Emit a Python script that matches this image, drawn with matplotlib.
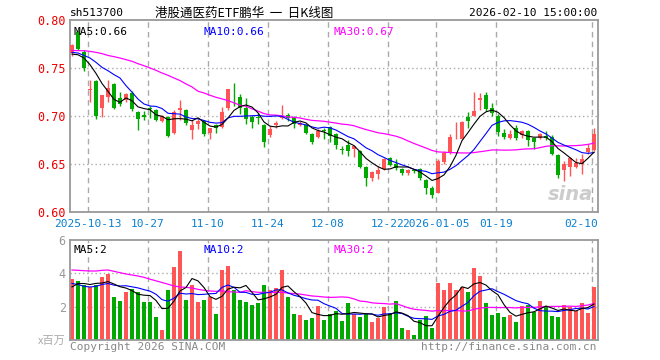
import pandas as pd
import matplotlib.pyplot as plt

# daily candles, 2025-09-30 .. 2026-02-10 (88 trading days)
opens = [0.766, 0.787, 0.767, 0.727, 0.736, 0.708, 0.720, 0.733, 0.719, 0.717,
         0.724, 0.704, 0.7015, 0.7085, 0.706, 0.6946, 0.699, 0.682, 0.706, 0.7065,
         0.685, 0.692, 0.6945, 0.6825, 0.691, 0.6888, 0.7085, 0.721, 0.720, 0.708,
         0.699, 0.6989, 0.691, 0.680, 0.691, 0.698, 0.7015, 0.699, 0.6905, 0.6905,
         0.681, 0.678, 0.685, 0.6885, 0.6815, 0.6655, 0.670, 0.6653, 0.664, 0.647,
         0.6358, 0.640, 0.6445, 0.6566, 0.6504, 0.6445, 0.641, 0.643, 0.6445, 0.633,
         0.6254, 0.620, 0.6524, 0.6618, 0.684, 0.6758, 0.6988, 0.6995, 0.7166, 0.7216,
         0.7085, 0.6998, 0.6825, 0.6774, 0.6877, 0.680, 0.6843, 0.6767, 0.6767, 0.679,
         0.678, 0.6593, 0.6434, 0.6469, 0.6469, 0.6496, 0.6628, 0.6642]
highs = [0.775, 0.790, 0.769, 0.737, 0.737, 0.7216, 0.738, 0.734, 0.725, 0.724,
         0.726, 0.705, 0.705, 0.710, 0.7075, 0.701, 0.700, 0.706, 0.717, 0.707,
         0.6955, 0.6965, 0.6955, 0.688, 0.692, 0.709, 0.7285, 0.7345, 0.723, 0.719,
         0.7015, 0.703, 0.6919, 0.690, 0.695, 0.711, 0.703, 0.700, 0.6945, 0.692,
         0.6825, 0.686, 0.6877, 0.6895, 0.6825, 0.6687, 0.6746, 0.6687, 0.665, 0.648,
         0.6427, 0.648, 0.6566, 0.6573, 0.6556, 0.6462, 0.6445, 0.6445, 0.6455, 0.634,
         0.6272, 0.655, 0.6635, 0.6808, 0.694, 0.6946, 0.704, 0.725, 0.724, 0.725,
         0.7137, 0.7016, 0.686, 0.685, 0.6905, 0.685, 0.685, 0.6773, 0.6825, 0.6843,
         0.680, 0.660, 0.653, 0.6573, 0.6566, 0.660, 0.6704, 0.6877]
lows = [0.762, 0.769, 0.7465, 0.715, 0.697, 0.699, 0.715, 0.707, 0.710, 0.715,
        0.705, 0.685, 0.696, 0.698, 0.6946, 0.694, 0.678, 0.681, 0.696, 0.691,
        0.6756, 0.686, 0.6795, 0.6765, 0.6825, 0.688, 0.706, 0.710, 0.702, 0.692,
        0.6877, 0.692, 0.6676, 0.6785, 0.6877, 0.6965, 0.6946, 0.688, 0.6895, 0.6815,
        0.6705, 0.6767, 0.6757, 0.673, 0.6653, 0.660, 0.6583, 0.6573, 0.6462, 0.6272,
        0.6324, 0.634, 0.6434, 0.648, 0.6434, 0.639, 0.639, 0.641, 0.633, 0.619,
        0.615, 0.6195, 0.6497, 0.6607, 0.6756, 0.6756, 0.6877, 0.6995, 0.7067, 0.7057,
        0.6998, 0.679, 0.6756, 0.6756, 0.6746, 0.6773, 0.6687, 0.666, 0.6756, 0.6746,
        0.6594, 0.6358, 0.6324, 0.6375, 0.6462, 0.6393, 0.660, 0.6635]
closes = [0.774, 0.770, 0.750, 0.728, 0.700, 0.7216, 0.729, 0.708, 0.7126, 0.723,
          0.707, 0.697, 0.699, 0.707, 0.696, 0.6995, 0.679, 0.704, 0.708, 0.693,
          0.691, 0.6946, 0.681, 0.688, 0.688, 0.704, 0.7285, 0.7205, 0.708, 0.6965,
          0.6933, 0.6982, 0.673, 0.686, 0.6925, 0.699, 0.6975, 0.692, 0.693, 0.6825,
          0.673, 0.684, 0.684, 0.679, 0.6697, 0.665, 0.6635, 0.6687, 0.647, 0.635,
          0.642, 0.6434, 0.6548, 0.649, 0.6462, 0.641, 0.6434, 0.6425, 0.6352, 0.6254,
          0.6178, 0.6531, 0.6618, 0.678, 0.6845, 0.694, 0.6953, 0.7057, 0.7188, 0.7078,
          0.7033, 0.6836, 0.6784, 0.6808, 0.6767, 0.6843, 0.6746, 0.6732, 0.6815, 0.6767,
          0.6607, 0.6386, 0.6503, 0.6566, 0.6514, 0.6548, 0.667, 0.6815]
volumes = [3.69, 3.53, 3.29, 3.18, 3.29, 3.80, 3.96, 2.57, 2.37, 2.88,
           3.04, 2.88, 2.27, 2.27, 1.41, 0.59, 2.98, 4.41, 5.33, 2.43,
           3.29, 2.27, 2.43, 2.61, 1.59, 4.20, 4.45, 2.98, 2.43, 2.31,
           2.12, 2.20, 3.29, 2.98, 3.12, 4.20, 2.61, 1.57, 1.51, 1.20,
           1.33, 2.06, 1.20, 1.57, 1.76, 1.14, 2.24, 1.55, 1.39, 1.55,
           1.08, 1.35, 2.00, 1.63, 2.37, 0.73, 0.59, 0.31, 1.20, 1.45,
           0.73, 3.40, 2.98, 3.43, 2.98, 3.18, 2.88, 4.35, 3.86, 2.20,
           1.51, 1.65, 1.41, 1.51, 1.08, 2.06, 2.12, 1.69, 2.37, 1.96,
           1.45, 1.39, 2.12, 2.00, 1.76, 2.20, 1.65, 3.18]

# moving-average values at the start of the window (read off the chart,
# they depend on days before the first candle)
ma5_head = [0.7645, 0.7638, 0.7604, 0.7535]
ma10_head = [0.7663, 0.7656, 0.7631, 0.7604, 0.7559, 0.7507, 0.7472, 0.7431, 0.7396]
ma30_head = [0.7683, 0.7681, 0.768, 0.7673, 0.7663, 0.765, 0.7631, 0.7618, 0.7604, 0.7587,
             0.757, 0.7545, 0.7524, 0.75, 0.7476, 0.7448, 0.7424, 0.7396, 0.7369, 0.7334,
             0.7303, 0.7258, 0.724, 0.7216, 0.7195, 0.7178, 0.7161, 0.7137, 0.7112]
vma5_head = [3.18, 3.39, 3.39, 3.33]
vma10_head = [3.39, 3.33, 3.22, 3.18, 3.22, 3.33, 3.39, 3.29, 3.24]
vma30_head = [4.20, 4.18, 4.16, 4.14, 4.14, 4.18, 4.20, 4.12, 4.04, 3.96,
              3.90, 3.84, 3.76, 3.65, 3.55, 3.45, 3.35, 3.24, 3.18, 3.16,
              3.12, 3.04, 2.98, 2.94, 2.92, 2.95, 2.90, 2.88, 2.86]

tick_idx = [3, 13, 23, 33, 43, 53, 61, 71, 87]
tick_labels = ['2025-10-13', '10-27', '11-10', '11-24', '12-08', '12-22',
               '2026-01-05', '01-19', '02-10']


def moving(vals, n, head):
    s = pd.Series(vals).rolling(n).mean()
    s.iloc[:len(head)] = head
    return s


RED = '#ff5555'
GREEN = '#00a800'
GRID = '#aaaaaa'
MONO = 'DejaVu Sans Mono'
CJK = ['Noto Sans CJK SC', 'DejaVu Sans']

df = pd.DataFrame({'open': opens, 'high': highs, 'low': lows, 'close': closes, 'vol': volumes})
df['color'] = [RED if c >= o else GREEN for o, c in zip(df.open, df.close)]
x = df.index.values

fig = plt.figure(figsize=(6.6, 3.6), dpi=100)
ax1 = fig.add_axes([70 / 660, 1 - 212 / 360, 528 / 660, 192 / 360])
ax2 = fig.add_axes([70 / 660, 1 - 340 / 360, 528 / 660, 100 / 360])

for ax in (ax1, ax2):
    ax.set_xlim(-0.33, 87.67)
    for i in tick_idx:
        ax.axvline(i - 0.33, color=GRID, ls=(0, (4, 3)), lw=1, zorder=0)
    for s in ax.spines.values():
        s.set_color('#999999')
        s.set_linewidth(1.3)
    ax.set_xticks([])
    ax.tick_params(length=0, pad=3)

# price panel
ax1.set_ylim(0.60, 0.80)
for v in [0.65, 0.70, 0.75]:
    ax1.axhline(v, color=GRID, ls=(0, (1, 2)), lw=1, zorder=0)
ax1.vlines(x, df.low, df.high, color=df.color, lw=1, zorder=2)
body = (df.close - df.open).abs().clip(lower=0.0008)
ax1.bar(x, body, bottom=df[['open', 'close']].min(axis=1), width=0.8,
        color=df.color, zorder=3)
ax1.plot(x, moving(closes, 30, ma30_head), color='#ff00ff', lw=0.9, zorder=4)
ax1.plot(x, moving(closes, 10, ma10_head), color='#0000ff', lw=0.8, zorder=4)
ax1.plot(x, moving(closes, 5, ma5_head), color='black', lw=0.8, zorder=4)
ax1.set_yticks([0.60, 0.65, 0.70, 0.75, 0.80])
ax1.set_yticklabels(['0.60', '0.65', '0.70', '0.75', '0.80'], color='#ee0000',
                    fontsize=8.5, family=MONO)
ax1.text(4 / 528, 0.965, 'MA5:0.66', transform=ax1.transAxes, color='black',
         fontsize=8, family=MONO, va='top')
ax1.text(134 / 528, 0.965, 'MA10:0.66', transform=ax1.transAxes, color='#0000ff',
         fontsize=8, family=MONO, va='top')
ax1.text(264 / 528, 0.965, 'MA30:0.67', transform=ax1.transAxes, color='#ff00ff',
         fontsize=8, family=MONO, va='top')
ax1.text(0.99, 0.09, 'sina', transform=ax1.transAxes, color='#cccccc',
         fontsize=14, fontweight='bold', style='italic', ha='right', va='center')

for i, lab in zip(tick_idx, tick_labels):
    last = i == tick_idx[-1]
    ax1.text(87.67 if last else i - 0.33, -0.037, lab,
             transform=ax1.get_xaxis_transform(), ha='right' if last else 'center',
             va='top', color='#0a7fd0', fontsize=8, family=MONO)

# volume panel
ax2.set_ylim(0, 6)
for v in [2, 4]:
    ax2.axhline(v, color=GRID, ls=(0, (1, 2)), lw=1, zorder=0)
ax2.bar(x, df.vol, width=0.8, color=df.color, zorder=2)
ax2.plot(x, moving(volumes, 30, vma30_head), color='#ff00ff', lw=0.9, zorder=3)
ax2.plot(x, moving(volumes, 10, vma10_head), color='#0000ff', lw=0.8, zorder=3)
ax2.plot(x, moving(volumes, 5, vma5_head), color='black', lw=0.8, zorder=3)
ax2.set_yticks([2, 4, 6])
ax2.set_yticklabels(['2', '4', '6'], color='#999999', fontsize=8.5, family=MONO)
ax2.text(4 / 528, 0.95, 'MA5:2', transform=ax2.transAxes, color='black',
         fontsize=8, family=MONO, va='top')
ax2.text(134 / 528, 0.95, 'MA10:2', transform=ax2.transAxes, color='#0000ff',
         fontsize=8, family=MONO, va='top')
ax2.text(264 / 528, 0.95, 'MA30:2', transform=ax2.transAxes, color='#ff00ff',
         fontsize=8, family=MONO, va='top')

# header / footer texts
fig.text(70 / 660, 1 - 13 / 360, 'sh513700', fontsize=8, family=MONO, va='center')
fig.text(244 / 660, 1 - 13 / 360, '港股通医药ETF鹏华  一  日K线图', fontsize=9,
         family=CJK, ha='center', va='center')
fig.text(597 / 660, 1 - 13 / 360, '2026-02-10 15:00:00', fontsize=8, family=MONO,
         ha='right', va='center')
fig.text(66 / 660, 1 - 341 / 360, 'x百万', fontsize=8, color='#aaaaaa',
         family=CJK, ha='right', va='center')
fig.text(70 / 660, 1 - 347 / 360, 'Copyright 2026 SINA.COM', fontsize=8,
         color='#888888', family=MONO, va='center')
fig.text(597 / 660, 1 - 347 / 360, 'http://finance.sina.com.cn', fontsize=8,
         color='#888888', family=MONO, ha='right', va='center')

fig.savefig('out.png', dpi=100)
